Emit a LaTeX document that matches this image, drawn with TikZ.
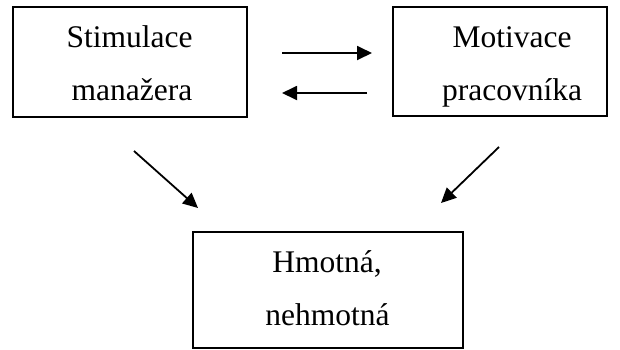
\documentclass[tikz,border=0pt]{standalone}
\usepackage{fontspec}
\setmainfont{Liberation Serif}
\usetikzlibrary{arrows.meta,calc}

\tikzset{
  box/.style={draw, line width=1.6pt, inner sep=0pt, outer sep=0pt},
  txt/.style={anchor=base, inner sep=0pt, font=\fontsize{31.5}{53}\selectfont},
  arr/.style={line width=1.8pt, -{Triangle[length=15pt,width=14pt]}}
}

\begin{document}
\begin{tikzpicture}[x=1pt,y=-1pt]
  \useasboundingbox (0,0) rectangle (620,349);

  % three boxes
  \node[box, minimum width=234pt, minimum height=110pt] (stim) at (130,62) {};
  \node[box, minimum width=214pt, minimum height=109pt] (motiv) at (500,61.5) {};
  \node[box, minimum width=270pt, minimum height=116pt] (hmot) at (328,290) {};

  % box texts
  \node[txt] (stimA) at (129.5,47) {Stimulace};
  \node[txt] (stimB) at (132,100) {manažera};
  \node[txt] (motA) at (512,47) {Motivace};
  \node[txt] (motB) at (512,100) {pracovníka};
  \node[txt] (hmA) at (327,272) {Hmotná,};
  \node[txt] (hmB) at (327.5,325) {nehmotná};

  % connectors
  \draw[arr] ($(stim.east)+(35,-9)$) -- ($(motiv.west)+(-21,-8.5)$);
  \draw[arr] ($(motiv.west)+(-26,31.5)$) -- ($(stim.east)+(35,31)$);
  \draw[arr] ($(stim.south)+(4,34)$) -- ($(hmot.north west)+(5,-24)$);
  \draw[arr] ($(motiv.south)+(-1,31)$) -- ($(hmot.north east)+(-22,-29)$);
\end{tikzpicture}
\end{document}
